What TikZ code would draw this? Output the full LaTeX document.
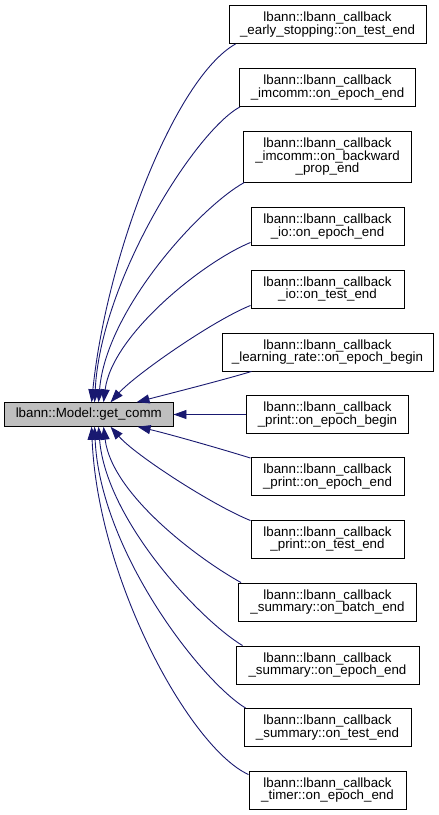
\documentclass[tikz,border=0pt]{standalone}
\usepackage{fontspec}
\setmainfont{Liberation Sans}
\usetikzlibrary{arrows.meta}
\definecolor{edgeblue}{HTML}{191970}
\definecolor{rootgray}{HTML}{BFBFBF}
\begin{document}
\begin{tikzpicture}[x=1pt,y=-1pt,
  box/.style={draw=black, line width=0.9pt, fill=white, inner sep=0pt, align=center,
    font=\fontsize{13.33}{12.5}\selectfont},
  rootbox/.style={box, fill=rootgray},
  edge/.style={draw=edgeblue, line width=0.9pt, -{Triangle[length=13pt,width=9pt]}}]
\useasboundingbox (0,0) rectangle (439,815);
% root
\node[rootbox, minimum width=168.5pt, minimum height=23.5pt] (g) at (88.75,414.5) {lbann::Model::get\_comm};
% callers
\node[box, minimum width=197pt, minimum height=38pt] (b1) at (327.5,24.5) {lbann::lbann\_callback\\\_early\_stopping::on\_test\_end};
\node[box, minimum width=176.4pt, minimum height=38pt] (b2) at (327.5,87.5) {lbann::lbann\_callback\\\_imcomm::on\_epoch\_end};
\node[box, minimum width=168.4pt, minimum height=50.5pt] (b3) at (327.5,156.75) {lbann::lbann\_callback\\\_imcomm::on\_backward\\\_prop\_end};
\node[box, minimum width=153pt, minimum height=38pt] (b4) at (327.5,226.5) {lbann::lbann\_callback\\\_io::on\_epoch\_end};
\node[box, minimum width=153pt, minimum height=38pt] (b5) at (327.5,289) {lbann::lbann\_callback\\\_io::on\_test\_end};
\node[box, minimum width=211pt, minimum height=38pt] (b6) at (327.5,352) {lbann::lbann\_callback\\\_learning\_rate::on\_epoch\_begin};
\node[box, minimum width=162pt, minimum height=38pt] (b7) at (327.5,414.5) {lbann::lbann\_callback\\\_print::on\_epoch\_begin};
\node[box, minimum width=153pt, minimum height=38pt] (b8) at (327.5,476.5) {lbann::lbann\_callback\\\_print::on\_epoch\_end};
\node[box, minimum width=153pt, minimum height=38pt] (b9) at (327.5,539) {lbann::lbann\_callback\\\_print::on\_test\_end};
\node[box, minimum width=178pt, minimum height=38pt] (b10) at (327.5,602) {lbann::lbann\_callback\\\_summary::on\_batch\_end};
\node[box, minimum width=183pt, minimum height=38pt] (b11) at (327.5,665) {lbann::lbann\_callback\\\_summary::on\_epoch\_end};
\node[box, minimum width=167pt, minimum height=38pt] (b12) at (327.5,727.5) {lbann::lbann\_callback\\\_summary::on\_test\_end};
\node[box, minimum width=157pt, minimum height=38pt] (b13) at (327.5,790) {lbann::lbann\_callback\\\_timer::on\_epoch\_end};
% edges
\draw[edge] ([xshift=7pt]b1.south west) .. controls (175.6,77.8) and (107,253) .. ([xshift=87.5pt]g.north west);
\draw[edge] ([xshift=1pt]b2.south west) .. controls (195,131.5) and (101,280) .. ([xshift=90.5pt]g.north west);
\draw[edge] ([xshift=1.5pt]b3.south west) .. controls (200,207) and (106,310) .. ([xshift=94.5pt]g.north west);
\draw[edge] ([yshift=3.5pt]b4.south west) .. controls (203,262) and (112,335) .. ([xshift=99.5pt]g.north west);
\draw[edge] ([yshift=3pt]b5.south west) .. controls (212,321) and (135,375) .. ([xshift=106.5pt]g.north west);
\draw[edge] ([xshift=30pt]b6.south west) .. controls (220,381) and (160,396) .. ([xshift=132.5pt]g.north west);
\draw[edge] (b7.west) -- (g.east);
\draw[edge] ([yshift=-1pt]b8.north west) .. controls (215,447) and (165,433) .. ([xshift=133.5pt]g.south west);
\draw[edge] ([yshift=-1pt]b9.north west) .. controls (212,505) and (135,455) .. ([xshift=106.5pt]g.south west);
\draw[edge] ([xshift=3pt]b10.north west) .. controls (200,560) and (112,495) .. ([xshift=99.5pt]g.south west);
\draw[edge] ([xshift=7pt]b11.north west) .. controls (200,620) and (106,520) .. ([xshift=94.5pt]g.south west);
\draw[edge] ([xshift=2pt]b12.north west) .. controls (200,680) and (100,550) .. ([xshift=90.5pt]g.south west);
\draw[edge] ([yshift=-4pt]b13.north west) .. controls (190,748) and (98,580) .. ([xshift=87.5pt]g.south west);
\end{tikzpicture}
\end{document}
